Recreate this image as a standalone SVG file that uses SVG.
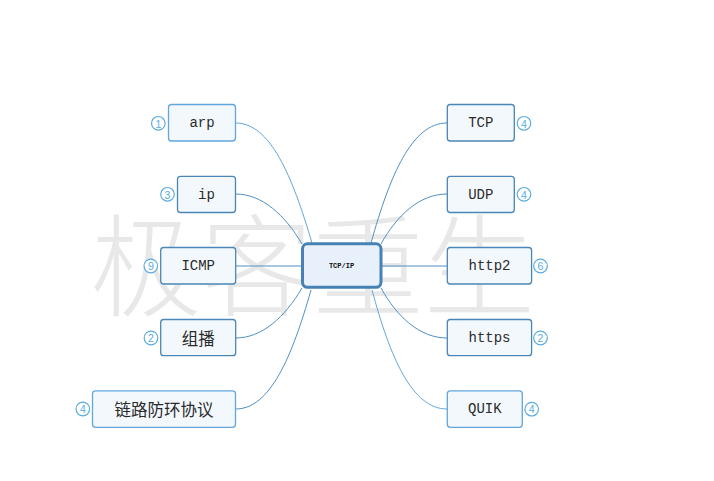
<svg xmlns="http://www.w3.org/2000/svg" width="714" height="481" viewBox="0 0 714 481">
<style>
.wm{font-family:"Noto Sans CJK SC","Noto Sans CJK JP",sans-serif;font-size:111px;fill:#e8e8e8;font-weight:300}
.box{fill:#f3f8fd;stroke:#4a86b8;stroke-width:1.3}
.box.lt{stroke:#62a6dc}
.t{font-family:"Liberation Mono","Noto Sans CJK SC",monospace;font-size:14px;fill:#2a2a2a;text-anchor:middle;dominant-baseline:central}
.c{font-family:"Noto Sans CJK SC",sans-serif;font-size:16.5px;fill:#2a2a2a;text-anchor:middle;dominant-baseline:central}
.bd circle{fill:#fff;stroke:#5aacde;stroke-width:1.2}
.bd text{font-family:"Liberation Sans",sans-serif;font-size:10.5px;fill:#5aacde;text-anchor:middle;dominant-baseline:central}
#connectors path{fill:none;stroke:#4f90c4;stroke-width:1}
#connectors path.lt{stroke:#62a6dc}
</style>
<rect width="714" height="481" fill="#fff"/>
<text class="wm" x="90" y="308" textLength="445" lengthAdjust="spacingAndGlyphs">极客重生</text>
<g id="connectors">
<path class="lt" d="M235.7,123 C270,123 292,175 312,243"/>
<path d="M235.7,194 C262,194 285,215 302,244"/>
<path d="M235.7,266 H302"/>
<path d="M235.7,338 C262,338 285,317 302,288"/>
<path d="M235.7,409 C270,409 292,357 311,290"/>
<path d="M447,123 C412,123 390,175 371,243"/>
<path d="M447,194 C420,194 397,215 381,244"/>
<path d="M381,266 H447"/>
<path d="M447,338 C420,338 397,317 381,288"/>
<path class="lt" d="M447,409 C412,409 390,357 372,290"/>
</g>
<g id="center">
<rect x="302.5" y="243.8" width="78.5" height="43.5" rx="5" fill="#e8f1fb" stroke="#4682b4" stroke-width="3"/>
<text x="341.5" y="266" font-family="Liberation Mono,monospace" font-size="7" font-weight="bold" fill="#111" text-anchor="middle" dominant-baseline="central">TCP/IP</text>
</g>
<g id="arp">
<rect class="box lt" x="168.5" y="104.5" width="67" height="36.5" rx="3"/>
<text class="t" x="202" y="123">arp</text>
<g class="bd"><circle cx="158.3" cy="123.3" r="6.8"/><text x="158.3" y="123.5">1</text></g>
</g>
<g id="ip">
<rect class="box" x="177.5" y="176.3" width="58" height="36.2" rx="3"/>
<text class="t" x="206.5" y="194.5">ip</text>
<g class="bd"><circle cx="167.5" cy="194.3" r="6.8"/><text x="167.5" y="194.5">3</text></g>
</g>
<g id="icmp">
<rect class="box" x="160.7" y="247.5" width="75" height="36.5" rx="3"/>
<text class="t" x="198.2" y="266">ICMP</text>
<g class="bd"><circle cx="150.8" cy="266" r="6.8"/><text x="150.8" y="266.2">9</text></g>
</g>
<g id="zubo">
<rect class="box" x="160.7" y="319.5" width="75" height="36.2" rx="3"/>
<text class="c" x="198.2" y="337.5">组播</text>
<g class="bd"><circle cx="151" cy="338" r="6.8"/><text x="151" y="338.2">2</text></g>
</g>
<g id="lianlu">
<rect class="box lt" x="92.5" y="390.8" width="143" height="36.5" rx="3"/>
<text class="c" x="164" y="409">链路防环协议</text>
<g class="bd"><circle cx="82.8" cy="409" r="6.8"/><text x="82.8" y="409.2">4</text></g>
</g>
<g id="tcp">
<rect class="box" x="447.3" y="104.5" width="67" height="36.5" rx="3"/>
<text class="t" x="480.8" y="123">TCP</text>
<g class="bd"><circle cx="524" cy="123.3" r="6.8"/><text x="524" y="123.5">4</text></g>
</g>
<g id="udp">
<rect class="box" x="447.3" y="176.3" width="67" height="36.2" rx="3"/>
<text class="t" x="480.8" y="194.5">UDP</text>
<g class="bd"><circle cx="524" cy="194.3" r="6.8"/><text x="524" y="194.5">4</text></g>
</g>
<g id="http2">
<rect class="box" x="447.3" y="247.5" width="84.3" height="36.5" rx="3"/>
<text class="t" x="489.5" y="266">http2</text>
<g class="bd"><circle cx="540.5" cy="266" r="6.8"/><text x="540.5" y="266.2">6</text></g>
</g>
<g id="https">
<rect class="box" x="447.3" y="319.5" width="84.3" height="36.2" rx="3"/>
<text class="t" x="489.5" y="337.5">https</text>
<g class="bd"><circle cx="540.5" cy="338" r="6.8"/><text x="540.5" y="338.2">2</text></g>
</g>
<g id="quik">
<rect class="box lt" x="447.3" y="390.8" width="75" height="36.5" rx="3"/>
<text class="t" x="484.8" y="409">QUIK</text>
<g class="bd"><circle cx="531.7" cy="409.2" r="6.8"/><text x="531.7" y="409.4">4</text></g>
</g>
</svg>
